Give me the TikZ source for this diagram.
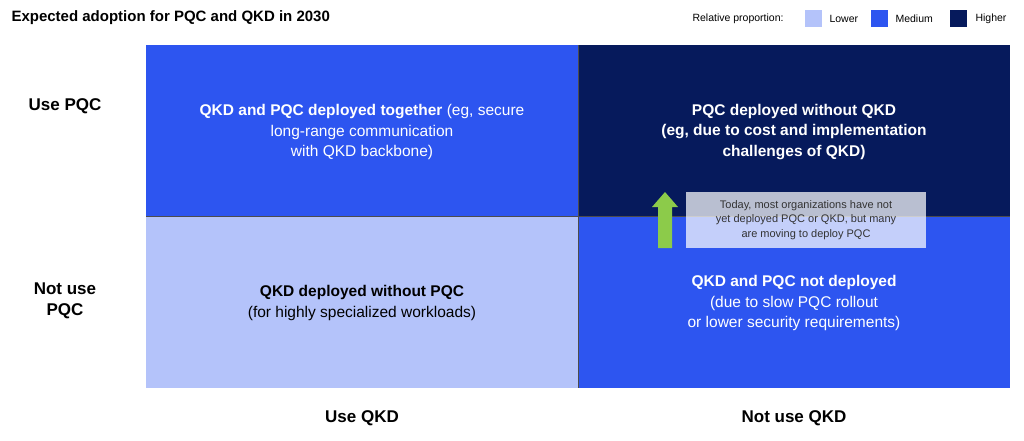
\documentclass[tikz,border=0pt]{standalone}
\usepackage{fontspec}
\setmainfont{Liberation Sans}
\definecolor{lowc}{HTML}{B4C3FA}
\definecolor{medc}{HTML}{2D55F0}
\definecolor{highc}{HTML}{061A5C}
\definecolor{arrowc}{HTML}{8CCB4A}
\begin{document}
\begin{tikzpicture}[x=1pt,y=-1pt,
  quad/.style={text=white,align=center,font=\fontsize{15.5}{20.5}\selectfont},
  axis/.style={font=\fontsize{17}{21}\selectfont\bfseries,align=center},
  leg/.style={font=\fontsize{10.5}{12}\selectfont,anchor=west}]
\useasboundingbox (0,0) rectangle (1024,440);
\fill[white] (0,0) rectangle (1024,440);
\fill[medc] (146,45) rectangle (578,216);
\fill[highc] (578,45) rectangle (1010,216);
\fill[lowc] (146,216) rectangle (578,388);
\fill[medc] (578,216) rectangle (1010,388);
\draw[black!70,line width=0.6pt] (578,45) -- (578,388) (146,216) -- (1010,216);
\node[anchor=west,font=\fontsize{15}{18}\selectfont\bfseries] (title) at (8,18) {Expected adoption for PQC and QKD in 2030};
\node[leg] (lt) at (689,19) {Relative proportion:};
\fill[lowc] (805,10) rectangle (822,27);
\node[leg] (l1) at (826,19) {Lower};
\fill[medc] (871,10) rectangle (888,27);
\node[leg] (l2) at (892,19) {Medium};
\fill[highc] (950,10) rectangle (967,27);
\node[leg] (l3) at (972,19) {Higher};
\node[axis] (r1) at (65,106) {Use PQC};
\node[axis] (r2) at (65,301) {Not use\\PQC};
\node[axis] (c1) at (362,418) {Use QKD};
\node[axis] (c2) at (794,418) {Not use QKD};
\node[quad] (q1) at (362,132) {\textbf{QKD and PQC deployed together} (eg, secure\\long-range communication\\with QKD backbone)};
\node[quad] (q2) at (794,132) {\textbf{PQC deployed without QKD}\\\textbf{(eg, due to cost and implementation}\\\textbf{challenges of QKD)}};
\node[quad,text=black] (q3) at (362,303) {\textbf{QKD deployed without PQC}\\(for highly specialized workloads)};
\node[quad] (q4) at (794,303) {\textbf{QKD and PQC not deployed}\\(due to slow PQC rollout\\or lower security requirements)};
\fill[white,opacity=0.72] (686,192) rectangle (926,248);
\node[align=center,font=\fontsize{11}{14.5}\selectfont,text=black!80] (call) at (806,220) {Today, most organizations have not\\yet deployed PQC or QKD, but many\\are moving to deploy PQC};
\fill[arrowc] (658,248) -- (672,248) -- (672,207) -- (678,207) -- (665,192) -- (652,207) -- (658,207) -- cycle;
\end{tikzpicture}
\end{document}
